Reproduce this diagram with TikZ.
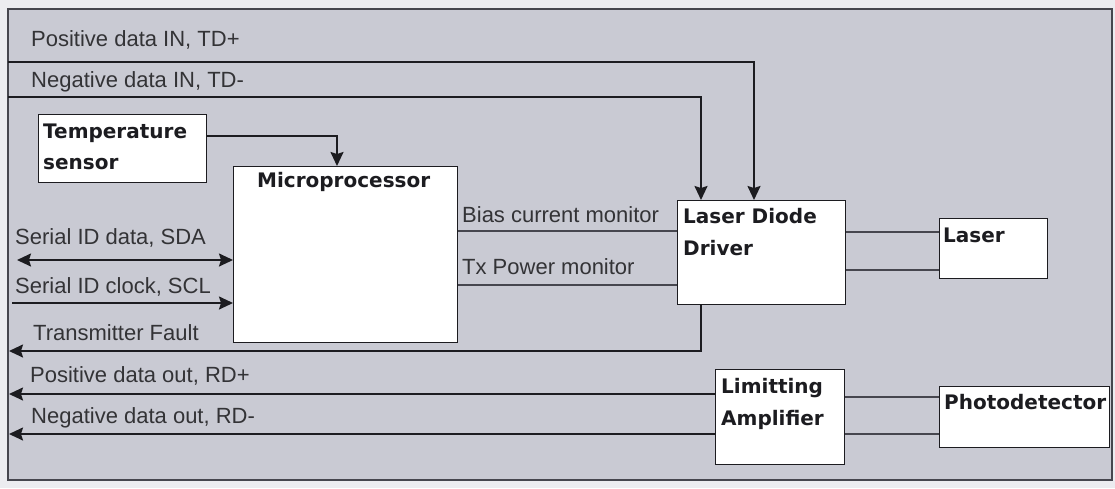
\documentclass[tikz,border=0pt]{standalone}
\usepackage{fontspec}
\setmainfont{Liberation Sans}
\newfontfamily\boxfont{DejaVu Sans}
\usetikzlibrary{arrows.meta,calc}
\definecolor{bgfill}{RGB}{201,202,211}
\definecolor{outside}{RGB}{236,236,240}
\definecolor{ink}{RGB}{28,28,32}
\definecolor{thin}{RGB}{70,70,78}
\tikzset{
  box/.style={draw=ink, line width=1.4pt, fill=white, anchor=north west, inner sep=0pt},
  boxtext/.style={anchor=base west, inner sep=0pt, text=ink, font=\boxfont\bfseries\fontsize{20}{20}\selectfont},
  lbl/.style={anchor=base west, inner sep=0pt, text=ink!90, font=\fontsize{22}{22}\selectfont},
  sig/.style={draw=ink, line width=1.8pt},
  link/.style={draw=thin, line width=1.2pt},
  tip/.style={-{Stealth[length=14pt,width=13pt,inset=2pt]}},
  tips/.style={{Stealth[length=14pt,width=13pt,inset=2pt]}-{Stealth[length=14pt,width=13pt,inset=2pt]}}
}
\begin{document}
\begin{tikzpicture}[x=1pt,y=-1pt]
\useasboundingbox (0,0) rectangle (1115,488);
\fill[outside] (0,0) rectangle (1115,488);
\draw[draw=thin, line width=1.2pt, fill=bgfill] (8,9) rectangle (1112,480);

% boxes
\node[box, minimum width=168pt, minimum height=68pt] (temp) at (38,114) {};
\node[box, minimum width=224pt, minimum height=176pt] (micro) at (233,166) {};
\node[box, minimum width=168pt, minimum height=104pt] (ldd) at (677,200) {};
\node[box, minimum width=108pt, minimum height=60pt] (laser) at (939,218) {};
\node[box, minimum width=129pt, minimum height=95pt] (la) at (715,369) {};
\node[box, minimum width=170pt, minimum height=61pt] (pd) at (939,386) {};

% box texts
\node[boxtext] (tempt1) at (43,138) {Temperature};
\node[boxtext] (tempt2) at (43,169) {sensor};
\node[boxtext] (microt) at (257,187) {Microprocessor};
\node[boxtext] (lddt1) at (683,223) {Laser Diode};
\node[boxtext] (lddt2) at (683,255) {Driver};
\node[boxtext] (lasert) at (943,242) {Laser};
\node[boxtext] (lat1) at (721,393) {Limitting};
\node[boxtext] (lat2) at (721,425) {Amplifier};
\node[boxtext] (pdt) at (944,409) {Photodetector};

% signal labels
\node[lbl] (l1) at (31,46) {Positive data IN, TD+};
\node[lbl] (l2) at (31,87) {Negative data IN, TD-};
\node[lbl] (l3) at (15,244) {Serial ID data, SDA};
\node[lbl] (l4) at (15,293) {Serial ID clock, SCL};
\node[lbl] (l5) at (33,340) {Transmitter Fault};
\node[lbl] (l6) at (30,382) {Positive data out, RD+};
\node[lbl] (l7) at (31,423) {Negative data out, RD-};
\node[lbl] (l8) at (462,222) {Bias current monitor};
\node[lbl] (l9) at (462,274) {Tx Power monitor};

% free ends on the left edge
\coordinate (tdp) at (8,62);
\coordinate (tdn) at (8,97);
\coordinate (sda) at (17,260);
\coordinate (scl) at (12,303);
\coordinate (flt) at (9,351);
\coordinate (rdp) at (9,394);
\coordinate (rdn) at (9,434);

% connectors
\draw[sig,tip] (tdp) -| ($(ldd.north west)+(77,0)$);
\draw[sig,tip] (tdn) -| ($(ldd.north west)+(24,0)$);
\draw[sig,tip] ($(temp.north east)+(0,22)$) -| ($(micro.north west)+(104,0)$);
\draw[link] ($(micro.north east)+(0,65)$) -- (ldd.west |- {$(micro.north east)+(0,65)$});
\draw[link] ($(micro.north east)+(0,119)$) -- (ldd.west |- {$(micro.north east)+(0,119)$});
\draw[link] ($(ldd.north east)+(0,32)$) -- (laser.west |- {$(ldd.north east)+(0,32)$});
\draw[link] ($(ldd.north east)+(0,70)$) -- (laser.west |- {$(ldd.north east)+(0,70)$});
\draw[sig,tips] (sda) -- (micro.west |- sda);
\draw[sig,tip] (scl) -- (micro.west |- scl);
\draw[sig,tip] ($(ldd.south west)+(24,0)$) |- (flt);
\draw[sig,tip] (la.west |- rdp) -- (rdp);
\draw[sig,tip] (la.west |- rdn) -- (rdn);
\draw[link] ($(la.north east)+(0,28)$) -- (pd.west |- {$(la.north east)+(0,28)$});
\draw[link] ($(la.north east)+(0,65)$) -- (pd.west |- {$(la.north east)+(0,65)$});
\end{tikzpicture}
\end{document}
